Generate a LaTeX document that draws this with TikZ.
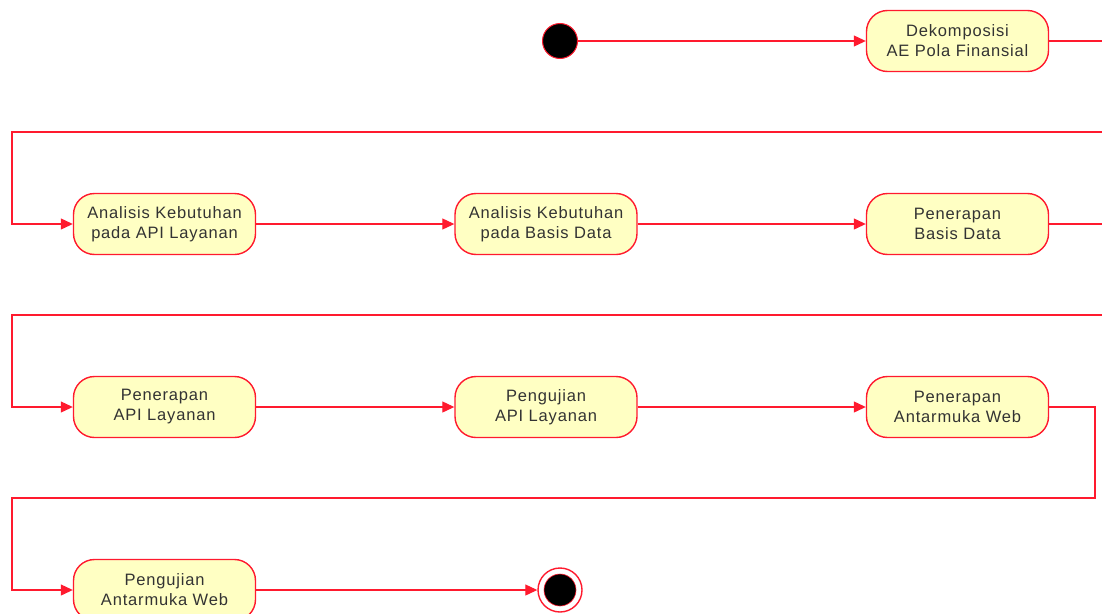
\documentclass[tikz,border=0pt]{standalone}
\usepackage{fontspec}
\setmainfont{Liberation Sans}[LetterSpace=5]
\usetikzlibrary{arrows.meta}
\definecolor{uired}{HTML}{FF1A2E}
\definecolor{uifill}{HTML}{FFFFC3}
\definecolor{uitext}{HTML}{333333}
\tikzset{
  act/.style={draw=uired, fill=uifill, line width=1.4pt, rounded corners=21pt,
    minimum width=182pt, minimum height=61pt, inner sep=0pt, align=center,
    text=uitext, font=\fontsize{16.5pt}{20pt}\selectfont},
  flow/.style={draw=uired, line width=1.1pt},
  arr/.style={flow, -{Triangle[length=12pt,width=11pt]}},
  startnode/.style={circle, fill=black, draw=uired, line width=1pt, minimum size=35pt, inner sep=0pt},
  endouter/.style={circle, draw=uired, fill=white, line width=1.4pt, minimum size=44pt, inner sep=0pt},
  endinner/.style={circle, fill=black, draw=uired, line width=0.6pt, minimum size=32pt, inner sep=0pt}
}
\begin{document}
\begin{tikzpicture}[x=1pt,y=-1pt]
\useasboundingbox (0,0) rectangle (1102,613);
% nodes
\node[startnode] (start) at (560,41) {};
\node[act] (dek) at (957.5,41) {Dekomposisi\\AE Pola Finansial};
\node[act] (a1) at (164.5,224) {Analisis Kebutuhan\\pada API Layanan};
\node[act] (a2) at (546,224) {Analisis Kebutuhan\\pada Basis Data};
\node[act] (a3) at (957.5,224) {Penerapan\\Basis Data};
\node[act] (b1) at (164.5,407) {Penerapan\\API Layanan};
\node[act] (b2) at (546,407) {Pengujian\\API Layanan};
\node[act] (b3) at (957.5,407) {Penerapan\\Antarmuka Web};
\node[act] (c1) at (164.5,590) {Pengujian\\Antarmuka Web};
\node[endouter] (endo) at (560,590) {};
\node[endinner] (endi) at (560,590) {};
% free ends / bends
\coordinate (r1) at (1110,41);
\coordinate (r1b) at (1110,132);
\coordinate (l1) at (12,132);
\coordinate (r2) at (1110,224);
\coordinate (r2b) at (1110,315);
\coordinate (l2) at (12,315);
\coordinate (r3) at (1095,407);
\coordinate (r3b) at (1095,498);
\coordinate (l3) at (12,498);
% connectors
\draw[arr] (start) -- (dek);
\draw[flow] (dek.east) -- (r1);
\draw[arr] (r1b) -- (l1) |- (a1.west);
\draw[arr] (a1) -- (a2);
\draw[arr] (a2) -- (a3);
\draw[flow] (a3.east) -- (r2);
\draw[arr] (r2b) -- (l2) |- (b1.west);
\draw[arr] (b1) -- (b2);
\draw[arr] (b2) -- (b3);
\draw[arr] (b3.east) -- (r3) -- (r3b) -- (l3) |- (c1.west);
\draw[arr] (c1) -- (endo);
\end{tikzpicture}
\end{document}
